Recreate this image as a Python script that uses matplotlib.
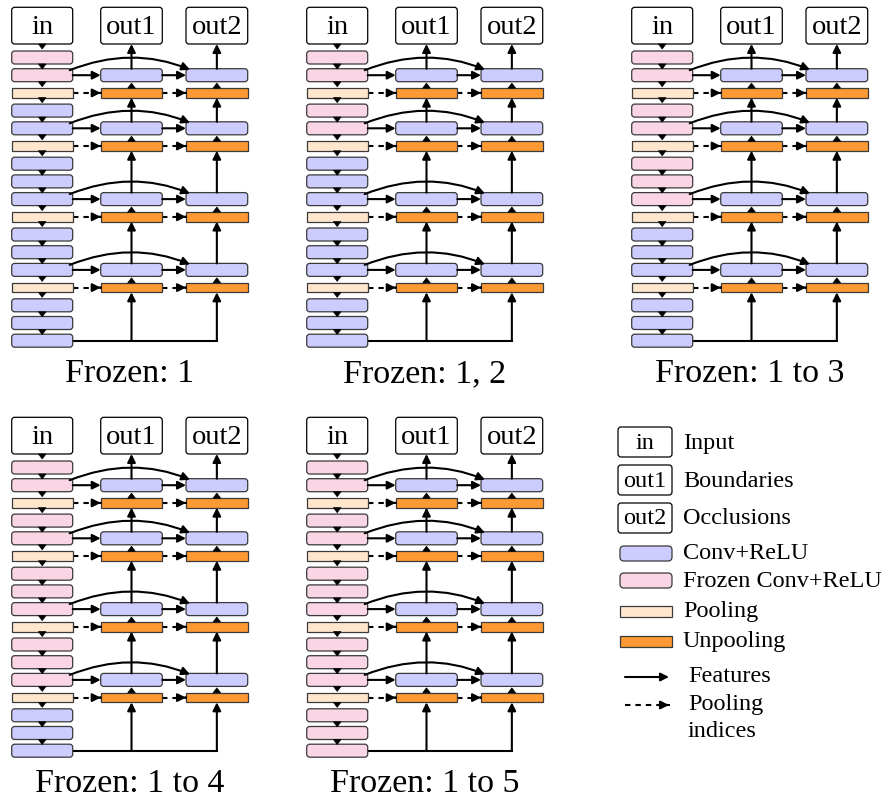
import matplotlib
matplotlib.use("Agg")
import matplotlib.pyplot as plt
from matplotlib.patches import FancyBboxPatch, Rectangle, Polygon, FancyArrowPatch
from matplotlib.path import Path

plt.rcParams['font.family'] = ['Liberation Serif', 'DejaVu Serif']

# encoder layers (VGG16 style), top to bottom
layer_kinds = ['conv', 'conv', 'pool',
               'conv', 'conv', 'pool',
               'conv', 'conv', 'conv', 'pool',
               'conv', 'conv', 'conv', 'pool',
               'conv', 'conv', 'conv']
layer_block = [1, 1, 1, 2, 2, 2, 3, 3, 3, 3, 4, 4, 4, 4, 5, 5, 5]

frozen_upto = [1, 2, 3, 4, 5]
titles = ['Frozen: 1', 'Frozen: 1, 2', 'Frozen: 1 to 3', 'Frozen: 1 to 4', 'Frozen: 1 to 5']
box_labels = ['in', 'out1', 'out2']

legend_boxes = ['in', 'out1', 'out2']
legend_box_text = ['Input', 'Boundaries', 'Occlusions']
legend_layers = ['conv', 'frozen', 'pool', 'unpool']
legend_layer_text = ['Conv+ReLU', 'Frozen Conv+ReLU', 'Pooling', 'Unpooling']
legend_arrows = ['solid', 'dashed']
legend_arrow_text = [['Features'], ['Pooling', 'indices']]

colors = {'conv': '#ccccff', 'frozen': '#f9d5e5', 'pool': '#ffe6cc', 'unpool': '#ff9933'}
EDGE = '#3a3a3a'

# geometry (pixels)
panel_off = [(0, 0), (295, 0), (620, 0), (0, 410), (295, 410)]
col_x = [(11.7, 72.7), (100.7, 162.3), (186.0, 247.7)]
ROW0, STEP = 51.0, 17.7
CONV_H, POOL_H = 13.0, 9.5

fig = plt.figure(figsize=(8.91, 7.98), dpi=100)
ax = fig.add_axes([0, 0, 1, 1])
ax.set_xlim(0, 891)
ax.set_ylim(798, 0)
ax.axis('off')


def layer_box(x0, x1, yc, kind, color):
    if kind == 'conv':
        p = FancyBboxPatch((x0, yc - CONV_H / 2), x1 - x0, CONV_H,
                           boxstyle='round,pad=0,rounding_size=3',
                           fc=color, ec=EDGE, lw=0.9, zorder=3)
    else:
        p = Rectangle((x0, yc - POOL_H / 2), x1 - x0, POOL_H,
                      fc=color, ec=EDGE, lw=0.9, zorder=3)
    ax.add_patch(p)


def arrow(p0, p1, dashed=False):
    if dashed:
        ax.plot([p0[0], p1[0] - 3], [p0[1], p1[1]], color='k', lw=1.5,
                dashes=(2.6, 2.4), zorder=2)
        dx = p1[0] - p0[0]
        p0 = (p1[0] - 0.01 * dx, p1[1])
    ax.annotate('', xy=p1, xytext=p0,
                arrowprops=dict(arrowstyle='-|>', lw=1.5, color='k',
                                shrinkA=0, shrinkB=0, mutation_scale=12),
                zorder=4)


def tri(cx, ytop, up=False):
    if up:
        pts = [(cx - 3.8, ytop), (cx + 3.8, ytop), (cx, ytop - 5)]
    else:
        pts = [(cx - 3.8, ytop), (cx + 3.8, ytop), (cx, ytop + 5)]
    ax.add_patch(Polygon(pts, closed=True, fc='k', ec='k', lw=0.5, zorder=4))


def row_y(i):
    return ROW0 + i * STEP + CONV_H / 2


def half(kind):
    return CONV_H / 2 if kind == 'conv' else POOL_H / 2


def draw_panel(ox, oy, n_frozen, title):
    ex0, ex1 = col_x[0][0] + ox, col_x[0][1] + ox
    ecx = (ex0 + ex1) / 2
    dcols = [(c[0] + ox, c[1] + ox) for c in col_x[1:]]
    dcx = [(a + b) / 2 for a, b in dcols]

    # input / output boxes
    for (x0, x1), lab in zip(col_x, box_labels):
        ax.add_patch(FancyBboxPatch((x0 + ox, 7.3 + oy), x1 - x0, 36.7,
                                    boxstyle='round,pad=0,rounding_size=3',
                                    fc='white', ec='k', lw=0.9, zorder=3))
        ax.text((x0 + x1) / 2 + ox, 33.5 + oy, lab, ha='center', va='baseline',
                fontsize=20.5, zorder=5)

    # encoder column
    tri(ecx, 44 + oy)
    n = len(layer_kinds)
    for i, (kind, blk) in enumerate(zip(layer_kinds, layer_block)):
        yc = row_y(i) + oy
        if kind == 'conv':
            col = colors['frozen'] if blk <= n_frozen else colors['conv']
        else:
            col = colors['pool']
        layer_box(ex0, ex1, yc, kind, col)
        if i < n - 1:
            tri(ecx, yc + half(kind))

    # side outputs: last conv before each pool
    pools = [i for i, k in enumerate(layer_kinds) if k == 'pool']
    convs = [p - 1 for p in pools]
    for c, p in zip(convs, pools):
        yc, yp = row_y(c) + oy, row_y(p) + oy
        for x0, x1 in dcols:
            layer_box(x0, x1, yc, 'conv', colors['conv'])
            layer_box(x0, x1, yp, 'pool', colors['unpool'])
        arrow((ex1, yc), (dcols[0][0], yc))
        arrow((dcols[0][1], yc), (dcols[1][0], yc))
        arrow((ex1, yp), (dcols[0][0], yp), dashed=True)
        arrow((dcols[0][1], yp), (dcols[1][0], yp), dashed=True)
        for cx in dcx:
            tri(cx, yp - POOL_H / 2, up=True)
        # skip connection to second decoder
        ytop = yc - CONV_H / 2
        verts = [(ex1 - 3, ytop + 1.5), (dcx[0], ytop - 23), (dcols[1][0] + 4, ytop + 1.0)]
        pth = Path(verts, [Path.MOVETO, Path.CURVE3, Path.CURVE3])
        ax.add_patch(FancyArrowPatch(path=pth, arrowstyle='-|>', lw=1.5, color='k',
                                     mutation_scale=12, zorder=4))

    # vertical feature flow in decoder
    last = row_y(n - 1) + oy
    ax.plot([ex1, dcx[0], dcx[1], dcx[1]], [last, last, last, last - 0.1],
            color='k', lw=1.5, zorder=2, solid_joinstyle='miter')
    starts = [last] + [row_y(c) + oy - CONV_H / 2 for c in convs[::-1]]
    ends = [row_y(p) + oy + POOL_H / 2 for p in pools[::-1]] + [44 + oy]
    for y0, y1 in zip(starts, ends):
        for cx in dcx:
            arrow((cx, y0), (cx, y1))

    ax.text((ex0 + dcols[1][1]) / 2, 382 + oy, title, ha='center', va='baseline',
            fontsize=24.5)


for (ox, oy), nf, t in zip(panel_off, frozen_upto, titles):
    draw_panel(ox, oy, nf, t)

# legend
lx0, lx1 = 618, 672
box_tops = [427, 465, 503]
box_base = [449, 487, 524]
for lab, txt, y0, yb in zip(legend_boxes, legend_box_text, box_tops, box_base):
    ax.add_patch(FancyBboxPatch((lx0, y0), lx1 - lx0, 30,
                                boxstyle='round,pad=0,rounding_size=3',
                                fc='white', ec='k', lw=0.9))
    ax.text((lx0 + lx1) / 2, yb, lab, ha='center', va='baseline', fontsize=17.5)
    ax.text(683, yb, txt, ha='left', va='baseline', fontsize=17.5)

layer_tops = [546, 573, 606, 636]
layer_hts = [15, 15, 11, 11]
layer_base = [559, 587, 617, 647]
for kind, txt, y0, h, yb in zip(legend_layers, legend_layer_text, layer_tops, layer_hts, layer_base):
    if kind in ('conv', 'frozen'):
        ax.add_patch(FancyBboxPatch((620, y0), 52, h,
                                    boxstyle='round,pad=0,rounding_size=4',
                                    fc=colors[kind], ec=EDGE, lw=0.9))
    else:
        ax.add_patch(Rectangle((620, y0), 52, h, fc=colors[kind], ec=EDGE, lw=0.9))
    ax.text(683, yb, txt, ha='left', va='baseline', fontsize=17.5)

arrow_y = [677, 705]
for style, lines, ya in zip(legend_arrows, legend_arrow_text, arrow_y):
    arrow((625, ya), (669, ya), dashed=(style == 'dashed'))
    for k, line in enumerate(lines):
        ax.text(688, ya + 5 + 27 * k, line, ha='left', va='baseline', fontsize=17.5)

fig.savefig('out.png', dpi=100)
